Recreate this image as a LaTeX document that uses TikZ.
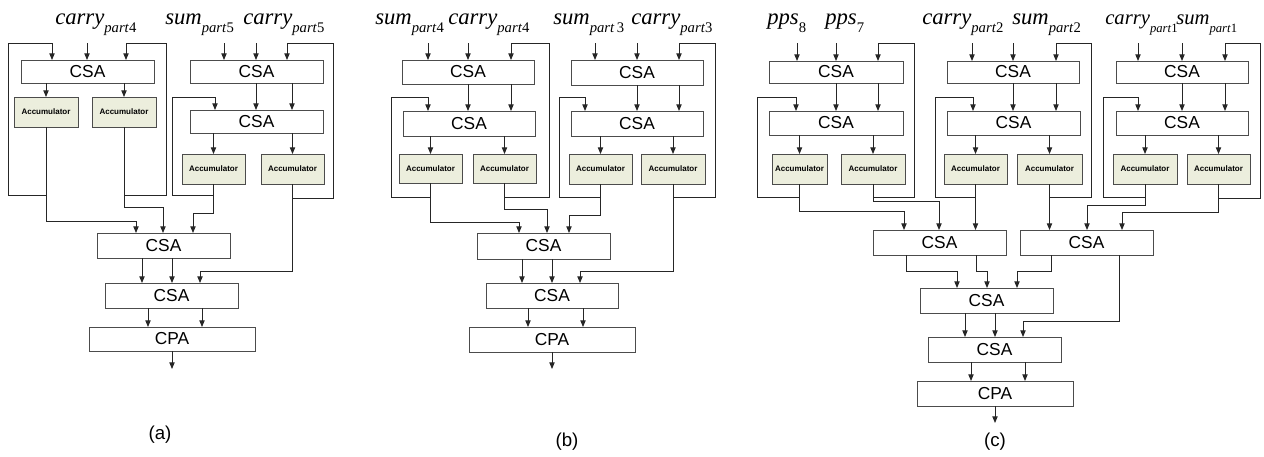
\documentclass[tikz,border=0pt]{standalone}
\usepackage{fontspec}
\setmainfont{Liberation Sans}
\newfontfamily\tms{Liberation Serif}
\usetikzlibrary{arrows.meta}
\definecolor{accfill}{HTML}{ECEEDD}
\tikzset{
 ln/.style={draw=black!85, line width=0.65pt},
 arr/.style={ln, -{Triangle[length=5pt,width=4pt]}},
 csa/.style={draw=black!70, line width=0.7pt, fill=white, inner sep=0pt, outer sep=0pt, font=\fontsize{13}{14}\selectfont},
 acc/.style={csa, fill=accfill, font=\bfseries\fontsize{6}{7}\selectfont},
 lbl/.style={anchor=base west, inner sep=0pt, font=\tms\fontsize{17}{18}\selectfont\def\subfs{11}},
 lblsm/.style={lbl, font=\tms\fontsize{15.5}{17}\selectfont\def\subfs{9.5}},
 captxt/.style={inner sep=0pt, font=\fontsize{14}{15}\selectfont}
}
\def\subfs{11}
\newcommand\pl[2]{\textit{#1}\raisebox{-6pt}{\fontsize{\subfs}{\subfs}\selectfont\textit{part}#2}}
\newcommand\pps[1]{\textit{pps}\raisebox{-6pt}{\fontsize{\subfs}{\subfs}\selectfont #1}}
\newcommand\bx[7]{\node[#6, minimum width={(#4-#2)*0.75pt}, minimum height={(#5-#3)*0.75pt}] (#1) at ({(#2+#4)/2},{(#3+#5)/2}) {#7};}
\begin{document}
\begin{tikzpicture}[x=0.75pt,y=-0.75pt]
\useasboundingbox (0,0) rectangle (1264,457);
% labels
\node[lbl] (la1) at (55,24) {\pl{carry}{4}};
\node[lbl] (la2) at (165,24) {\pl{sum}{5}};
\node[lbl] (la3) at (243,24) {\pl{carry}{5}};
\node[lbl] (lb1) at (375,24) {\pl{sum}{4}};
\node[lbl] (lb2) at (448,24) {\pl{carry}{4}};
\node[lbl] (lb3) at (553,24) {\pl{sum}{\,3}};
\node[lbl] (lb4) at (631,24) {\pl{carry}{3}};
\node[lbl] (lc1) at (767,24) {\pps{8}};
\node[lbl] (lc2) at (825,24) {\pps{7}};
\node[lbl] (lc3) at (922,24) {\pl{carry}{2}};
\node[lbl] (lc4) at (1012,24) {\pl{sum}{2}};
\node[lblsm] (lc5) at (1105,24) {\pl{carry}{1}};
\node[lblsm] (lc6) at (1176,24) {\pl{sum}{1}};
% ---------- (a) boxes
\bx{aL1}{21}{60}{154}{83}{csa}{CSA}
\bx{aLacc1}{14}{97}{78}{127}{acc}{Accumulator}
\bx{aLacc2}{92}{97}{156}{127}{acc}{Accumulator}
\bx{aR1}{190}{60}{323}{83}{csa}{CSA}
\bx{aR2}{190}{110}{323}{133}{csa}{CSA}
\bx{aRacc1}{182}{154}{245}{184}{acc}{Accumulator}
\bx{aRacc2}{261}{154}{324}{184}{acc}{Accumulator}
\bx{aC3}{97}{233}{230}{258}{csa}{CSA}
\bx{aC4}{105}{283}{238}{308}{csa}{CSA}
\bx{aCPA}{89}{327}{255}{351}{csa}{CPA}
% ---------- (a) connectors
\draw[arr] (87,43) -- (aL1.north -| 87,0);
\draw[arr] (aLacc1.south |- 0,195) -| (8,43) -| (aL1.north -| 52,0);
\draw[arr] (aLacc2.south |- 0,195) -| (166,43) -| (aL1.north -| 126,0);
\draw[arr] (aL1.south -| aLacc1.north) -- (aLacc1.north);
\draw[arr] (aL1.south -| aLacc2.north) -- (aLacc2.north);
\draw[arr] (aLacc1.south) |- (136,221) -- (aC3.north -| 136,0);
\draw[arr] (aLacc2.south) |- (163,207) -- (aC3.north -| 163,0);
\draw[arr] (224,43) -- (aR1.north -| 224,0);
\draw[arr] (256,43) -- (aR1.north -| 256,0);
\draw[arr] (aRacc2.south |- 0,198) -| (333,43) -| (aR1.north -| 287,0);
\draw[arr] (aR1.south -| 256,0) -- (aR2.north -| 256,0);
\draw[arr] (aR1.south -| 292,0) -- (aR2.north -| 292,0);
\draw[arr] (aRacc1.south |- 0,195) -| (172,97) -| (aR2.north -| 215,0);
\draw[arr] (aR2.south -| aRacc1.north) -- (aRacc1.north);
\draw[arr] (aR2.south -| aRacc2.north) -- (aRacc2.north);
\draw[arr] (aRacc1.south) |- (193,213) -- (aC3.north -| 193,0);
\draw[arr] (aRacc2.south) |- (200,271) -- (aC4.north -| 200,0);
\draw[arr] (aC3.south -| 142,0) -- (aC4.north -| 142,0);
\draw[arr] (aC3.south -| 172,0) -- (aC4.north -| 172,0);
\draw[arr] (aC4.south -| 148,0) -- (aCPA.north -| 148,0);
\draw[arr] (aC4.south -| 202,0) -- (aCPA.north -| 202,0);
\coordinate (aout) at (172,369);
\draw[arr] (aCPA.south) -- (aout);
% ---------- (b) boxes
\bx{bL1}{402}{60}{534}{84}{csa}{CSA}
\bx{bL2}{403}{111}{535}{136}{csa}{CSA}
\bx{bLacc1}{399}{154}{462}{183}{acc}{Accumulator}
\bx{bLacc2}{473}{154}{536}{183}{acc}{Accumulator}
\bx{bR1}{571}{60}{703}{85}{csa}{CSA}
\bx{bR2}{571}{111}{703}{136}{csa}{CSA}
\bx{bRacc1}{569}{154}{632}{184}{acc}{Accumulator}
\bx{bRacc2}{641}{154}{705}{184}{acc}{Accumulator}
\bx{bC3}{477}{233}{610}{259}{csa}{CSA}
\bx{bC4}{486}{283}{618}{308}{csa}{CSA}
\bx{bCPA}{469}{327}{635}{352}{csa}{CPA}
% ---------- (b) connectors
\draw[arr] (428,43) -- (bL1.north -| 428,0);
\draw[arr] (468,43) -- (bL1.north -| 468,0);
\draw[arr] (bLacc2.south |- 0,197) -| (549,43) -| (bL1.north -| 511,0);
\draw[arr] (bL1.south -| 468,0) -- (bL2.north -| 468,0);
\draw[arr] (bL1.south -| 511,0) -- (bL2.north -| 511,0);
\draw[arr] (bLacc1.south |- 0,197) -| (391,97) -| (bL2.north -| 428,0);
\draw[arr] (bL2.south -| bLacc1.north) -- (bLacc1.north);
\draw[arr] (bL2.south -| bLacc2.north) -- (bLacc2.north);
\draw[arr] (bLacc1.south) |- (519,222) -- (bC3.north -| 519,0);
\draw[arr] (bLacc2.south) |- (547,209) -- (bC3.north -| 547,0);
\draw[arr] (595,43) -- (bR1.north -| 595,0);
\draw[arr] (637,43) -- (bR1.north -| 637,0);
\draw[arr] (bRacc2.south |- 0,197) -| (715,43) -| (bR1.north -| 679,0);
\draw[arr] (bR1.south -| 637,0) -- (bR2.north -| 637,0);
\draw[arr] (bR1.south -| 679,0) -- (bR2.north -| 679,0);
\draw[arr] (bRacc1.south |- 0,197) -| (559,97) -| (bR2.north -| 585,0);
\draw[arr] (bR2.south -| bRacc1.north) -- (bRacc1.north);
\draw[arr] (bR2.south -| bRacc2.north) -- (bRacc2.north);
\draw[arr] (bRacc1.south) |- (569,215) -- (bC3.north -| 569,0);
\draw[arr] (bRacc2.south) |- (580,271) -- (bC4.north -| 580,0);
\draw[arr] (bC3.south -| 522,0) -- (bC4.north -| 522,0);
\draw[arr] (bC3.south -| 552,0) -- (bC4.north -| 552,0);
\draw[arr] (bC4.south -| 528,0) -- (bCPA.north -| 528,0);
\draw[arr] (bC4.south -| 583,0) -- (bCPA.north -| 583,0);
\coordinate (bout) at (552,369);
\draw[arr] (bCPA.south) -- (bout);
% ---------- (c) boxes
\bx{cL1}{769}{61}{903}{83}{csa}{CSA}
\bx{cL2}{769}{111}{903}{135}{csa}{CSA}
\bx{cLacc1}{772}{154}{827}{184}{acc}{Accumulator}
\bx{cLacc2}{841}{154}{905}{184}{acc}{Accumulator}
\bx{cM1}{947}{61}{1079}{83}{csa}{CSA}
\bx{cM2}{947}{111}{1080}{135}{csa}{CSA}
\bx{cMacc1}{944}{154}{1007}{184}{acc}{Accumulator}
\bx{cMacc2}{1017}{154}{1082}{184}{acc}{Accumulator}
\bx{cR1}{1116}{61}{1248}{83}{csa}{CSA}
\bx{cR2}{1116}{111}{1248}{135}{csa}{CSA}
\bx{cRacc1}{1113}{154}{1177}{184}{acc}{Accumulator}
\bx{cRacc2}{1187}{154}{1250}{184}{acc}{Accumulator}
\bx{cC3}{873}{230}{1006}{255}{csa}{CSA}
\bx{cC4}{1020}{230}{1153}{255}{csa}{CSA}
\bx{cC5}{920}{288}{1053}{313}{csa}{CSA}
\bx{cC6}{928}{337}{1061}{362}{csa}{CSA}
\bx{cCPA}{917}{381}{1073}{406}{csa}{CPA}
% ---------- (c) connectors
\draw[arr] (797,43) -- (cL1.north -| 797,0);
\draw[arr] (836,43) -- (cL1.north -| 836,0);
\draw[arr] (cLacc2.south |- 0,197) -| (914,43) -| (cL1.north -| 878,0);
\draw[arr] (cL1.south -| 836,0) -- (cL2.north -| 836,0);
\draw[arr] (cL1.south -| 878,0) -- (cL2.north -| 878,0);
\draw[arr] (cLacc1.south |- 0,197) -| (757,97) -| (cL2.north -| 796,0);
\draw[arr] (cL2.south -| cLacc1.north) -- (cLacc1.north);
\draw[arr] (cL2.south -| cLacc2.north) -- (cLacc2.north);
\draw[arr] (cLacc1.south) |- (904,211) -- (cC3.north -| 904,0);
\draw[arr] (cLacc2.south) |- (939,201) -- (cC3.north -| 939,0);
\draw[arr] (972,43) -- (cM1.north -| 972,0);
\draw[arr] (1013,43) -- (cM1.north -| 1013,0);
\draw[arr] (cMacc2.south |- 0,197) -| (1091,43) -| (cM1.north -| 1056,0);
\draw[arr] (cM1.south -| 1013,0) -- (cM2.north -| 1013,0);
\draw[arr] (cM1.south -| 1056,0) -- (cM2.north -| 1056,0);
\draw[arr] (cMacc1.south |- 0,197) -| (935,97) -| (cM2.north -| 973,0);
\draw[arr] (cM2.south -| cMacc1.north) -- (cMacc1.north);
\draw[arr] (cM2.south -| cMacc2.north) -- (cMacc2.north);
\draw[arr] (cMacc1.south) -- (cC3.north -| cMacc1.south);
\draw[arr] (cMacc2.south) -- (cC4.north -| cMacc2.south);
\draw[arr] (1138,43) -- (cR1.north -| 1138,0);
\draw[arr] (1182,43) -- (cR1.north -| 1182,0);
\draw[arr] (cRacc2.south |- 0,198) -| (1260,43) -| (cR1.north -| 1225,0);
\draw[arr] (cR1.south -| 1182,0) -- (cR2.north -| 1182,0);
\draw[arr] (cR1.south -| 1225,0) -- (cR2.north -| 1225,0);
\draw[arr] (cRacc1.south |- 0,197) -| (1103,97) -| (cR2.north -| 1138,0);
\draw[arr] (cR2.south -| cRacc1.north) -- (cRacc1.north);
\draw[arr] (cR2.south -| cRacc2.north) -- (cRacc2.north);
\draw[arr] (cRacc1.south) |- (1087,205) -- (cC4.north -| 1087,0);
\draw[arr] (cRacc2.south) |- (1122,212) -- (cC4.north -| 1122,0);
\draw[arr] (cC3.south -| 906,0) |- (957,271) -- (cC5.north -| 957,0);
\draw[arr] (cC3.south -| 976,0) |- (987,271) -- (cC5.north -| 987,0);
\draw[arr] (cC4.south -| 1051,0) |- (1017,271) -- (cC5.north -| 1017,0);
\draw[arr] (cC4.south -| 1119,0) |- (1023,321) -- (cC6.north -| 1023,0);
\draw[arr] (cC5.south -| 965,0) -- (cC6.north -| 965,0);
\draw[arr] (cC5.south -| 995,0) -- (cC6.north -| 995,0);
\draw[arr] (cC6.south -| 971,0) -- (cCPA.north -| 971,0);
\draw[arr] (cC6.south -| 1025,0) -- (cCPA.north -| 1025,0);
\coordinate (cout) at (995,423);
\draw[arr] (cCPA.south) -- (cout);
% captions
\node[captxt] (capa) at (160,435) {(a)};
\node[captxt] (capb) at (567,442) {(b)};
\node[captxt] (capc) at (995,442) {(c)};
\end{tikzpicture}
\end{document}
